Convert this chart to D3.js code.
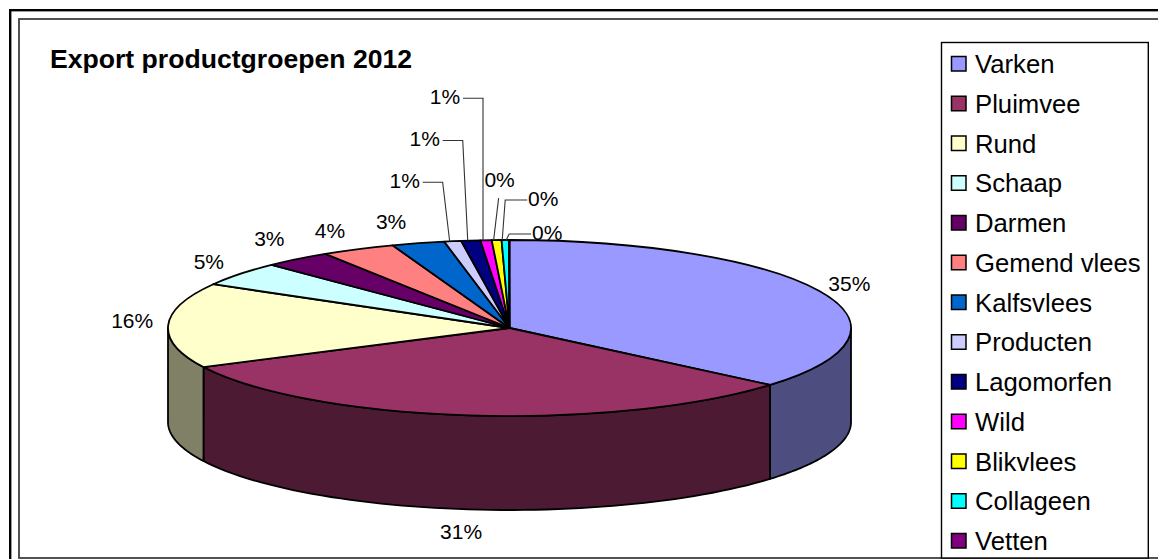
<!DOCTYPE html>
<html><head><meta charset="utf-8">
<script src="https://cdn.jsdelivr.net/npm/d3@7"></script>
<style>html,body{margin:0;padding:0;background:#fff;overflow:hidden}svg{display:block}text{font-family:"Liberation Sans",Arial,sans-serif;fill:#000}</style>
</head><body><div id="c"></div>
<script>
const categories=["Varken","Pluimvee","Rund","Schaap","Darmen","Gemend vlees","Kalfsvlees","Producten","Lagomorfen","Wild","Blikvlees","Collageen","Vetten"];
const values=[36.17,31.47,15.6,4.44,3.2,3.5,2.5,0.8,0.9,0.53,0.46,0.34,0.03];
const percentLabels=["35%","31%","16%","5%","3%","4%","3%","1%","1%","1%","0%","0%","0%"];
const colors=["#9999FF","#993366","#FFFFCC","#CCFFFF","#660066","#FF8080","#0066CC","#CCCCFF","#000080","#FF00FF","#FFFF00","#00FFFF","#800080"];
const title="Export productgroepen 2012";

// layout
const W=1158,H=559,cx=509.5,cy=328,rx=341.5,ry=88,depth=94;
// label centre relative to each slice's rim mid-point; the tiny slices get leader lines
const labelOffsets=[[30,-8],[-7,116],[-36,-5],[-31,-13],[-28,-21],[-28,-19],[-27,-22],[-48,-61],[-46,-102],[-41,-144],[3,-61],[38,-42],[38,-8]];
const leaders=[0,0,0,0,0,0,0,1,1,1,1,1,1];

const svg=d3.select("#c").append("svg").attr("width",W).attr("height",H);
svg.append("rect").attr("width",W).attr("height",H).attr("fill","#fff");
svg.append("rect").attr("x",10.2).attr("y",10.2).attr("width",1200).attr("height",600).attr("fill","none").attr("stroke","#000").attr("stroke-width",2.4);
svg.append("rect").attr("x",19).attr("y",19).attr("width",1200).attr("height",539).attr("fill","none").attr("stroke","#404040").attr("stroke-width",1.8);

svg.append("text").attr("x",50).attr("y",68).attr("font-size",26.6).attr("font-weight","bold").text(title);

const pie=d3.pie().sort(null).value(d=>d)(values);
const sx=d3.scaleLinear().domain([-1,1]).range([cx-rx,cx+rx]);
const sy=d3.scaleLinear().domain([-1,1]).range([cy-ry,cy+ry]);
const rim=a=>[sx(Math.sin(a)),sy(-Math.cos(a))];

const dark=c=>{const q=d3.rgb(c);return d3.rgb(q.r/2,q.g/2,q.b/2).formatHex();};
const line=d3.line();
const SW=1.8;

// side walls (only the front half of the rim is visible)
const g=svg.append("g");
pie.forEach((d,i)=>{
  const a0=Math.max(d.startAngle,Math.PI/2),a1=Math.min(d.endAngle,3*Math.PI/2);
  if(a1<=a0)return;
  const as=d3.range(0,61).map(k=>a0+(a1-a0)*k/60);
  const top=as.map(rim),bot=as.map(a=>{const p=rim(a);return [p[0],p[1]+depth];}).reverse();
  g.append("path").attr("d",line(top.concat(bot))+"Z").attr("fill",dark(colors[i])).attr("stroke","#000").attr("stroke-width",SW).attr("stroke-linejoin","round");
});

// top face
const arc=d3.arc().innerRadius(0).outerRadius(rx);
const topG=svg.append("g").attr("transform",`translate(${cx},${cy}) scale(1,${ry/rx})`);
topG.selectAll("path").data(pie).join("path").attr("d",arc).attr("fill",(d,i)=>colors[i])
  .attr("stroke","#000").attr("stroke-width",SW).attr("vector-effect","non-scaling-stroke").attr("stroke-linejoin","round");

// labels
pie.forEach((d,i)=>{
  const m=rim((d.startAngle+d.endAngle)/2);
  const lx=m[0]+labelOffsets[i][0],ly=m[1]+labelOffsets[i][1];
  svg.append("text").attr("x",lx).attr("y",ly).attr("text-anchor","middle").attr("dominant-baseline","central").attr("font-size",21).text(percentLabels[i]);
  if(leaders[i]){
    const end=[m[0]-3,m[1]];
    let pts;
    if(labelOffsets[i][0]<0) pts=[[lx+18,ly+2],[lx+38,ly+2],end];
    else if(labelOffsets[i][1]<-50) pts=[[m[0]+2,ly+19],end];
    else pts=[[lx-16,ly+2],[m[0],ly+2],end];
    svg.append("path").attr("d",line(pts)).attr("fill","none").attr("stroke","#333").attr("stroke-width",1.1);
  }
});

// legend
const lg=svg.append("g");
lg.append("rect").attr("x",941.5).attr("y",42.5).attr("width",206.8).attr("height",515.5).attr("fill","#fff").attr("stroke","#000").attr("stroke-width",1.4);
const ly=d3.scalePoint().domain(categories).range([64,541]);
categories.forEach((c,i)=>{
  lg.append("rect").attr("x",951.5).attr("y",ly(c)-7.5).attr("width",14.5).attr("height",14.5).attr("fill",colors[i]).attr("stroke","#000").attr("stroke-width",1.5);
  lg.append("text").attr("x",975).attr("y",ly(c)).attr("dominant-baseline","central").attr("font-size",25.7).text(c);
});
</script></body></html>
